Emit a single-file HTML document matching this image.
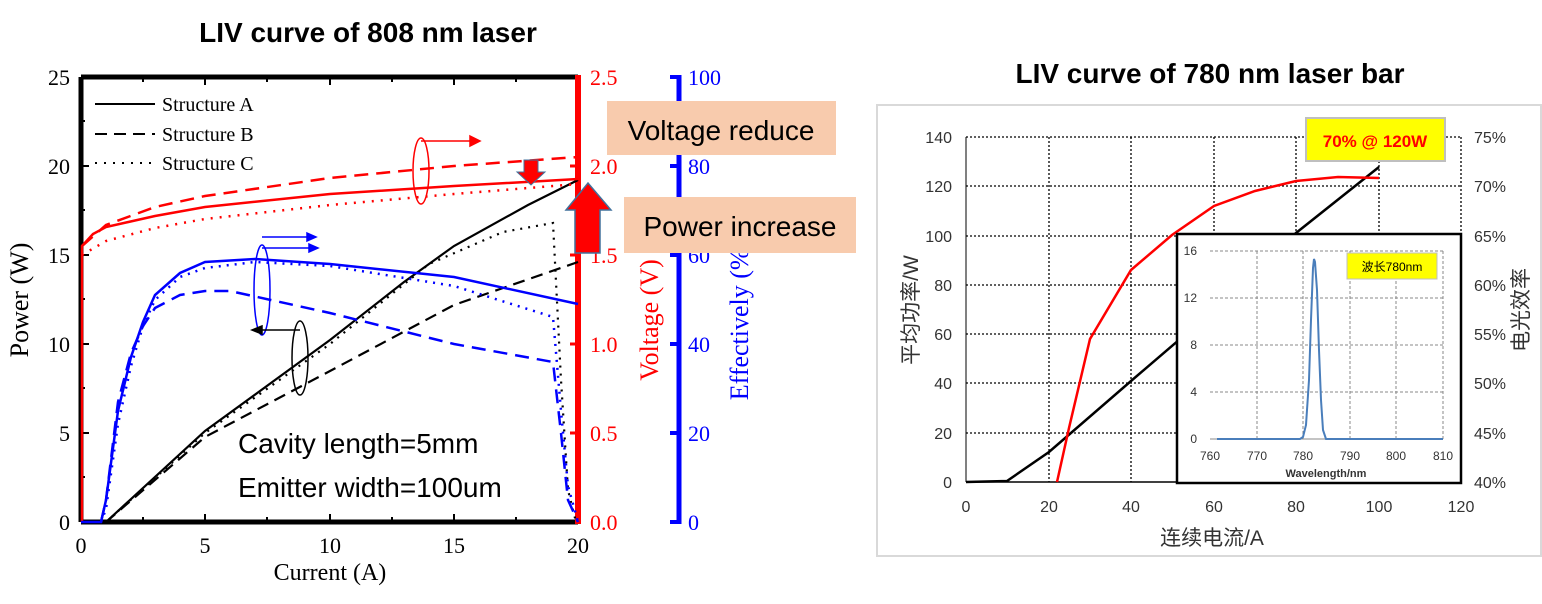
<!DOCTYPE html>
<html><head><meta charset="utf-8"><style>
body{margin:0;background:#fff;}
svg text{font-family:"Liberation Serif",serif;}
svg .s, svg .s text{font-family:"Liberation Sans","Noto Sans CJK SC",sans-serif;}
</style></head><body>
<svg width="1542" height="599" viewBox="0 0 1542 599" xmlns="http://www.w3.org/2000/svg">
<!-- LEFT CHART -->
<text x="368" y="42" text-anchor="middle" class="s" font-size="28" font-weight="bold">LIV curve of 808 nm laser</text>
<g stroke="#000" stroke-width="2">
<line x1="81" y1="77" x2="81" y2="522" stroke-width="5"/>
<line x1="81" y1="77" x2="578" y2="77" stroke-width="5"/>
<line x1="81" y1="522" x2="578" y2="522" stroke-width="5"/>
<line x1="81" y1="433" x2="89" y2="433"/><line x1="81" y1="344" x2="89" y2="344"/><line x1="81" y1="255" x2="89" y2="255"/><line x1="81" y1="166" x2="89" y2="166"/>
<line x1="81" y1="477" x2="85" y2="477"/><line x1="81" y1="388" x2="85" y2="388"/><line x1="81" y1="299" x2="85" y2="299"/><line x1="81" y1="210" x2="85" y2="210"/><line x1="81" y1="121" x2="85" y2="121"/>
<line x1="205" y1="522" x2="205" y2="514"/><line x1="330" y1="522" x2="330" y2="514"/><line x1="454" y1="522" x2="454" y2="514"/>
<line x1="205" y1="77" x2="205" y2="85"/><line x1="330" y1="77" x2="330" y2="85"/><line x1="454" y1="77" x2="454" y2="85"/>
<line x1="143" y1="522" x2="143" y2="517"/><line x1="267" y1="522" x2="267" y2="517"/><line x1="392" y1="522" x2="392" y2="517"/><line x1="516" y1="522" x2="516" y2="517"/>
<line x1="143" y1="77" x2="143" y2="82"/><line x1="267" y1="77" x2="267" y2="82"/><line x1="392" y1="77" x2="392" y2="82"/><line x1="516" y1="77" x2="516" y2="82"/>
</g>
<line x1="578" y1="75" x2="578" y2="524" stroke="#f00" stroke-width="6"/>
<g stroke="#f00" stroke-width="3"><line x1="578" y1="433" x2="570" y2="433"/><line x1="578" y1="344" x2="570" y2="344"/><line x1="578" y1="255" x2="570" y2="255"/><line x1="578" y1="166" x2="570" y2="166"/></g>
<line x1="679" y1="75" x2="679" y2="524" stroke="#00f" stroke-width="5"/>
<g stroke="#00f" stroke-width="4"><line x1="670" y1="77" x2="680" y2="77"/><line x1="670" y1="166" x2="680" y2="166"/><line x1="670" y1="255" x2="680" y2="255"/><line x1="670" y1="344" x2="680" y2="344"/><line x1="670" y1="433" x2="680" y2="433"/><line x1="670" y1="522" x2="680" y2="522"/></g>
<g font-size="22" text-anchor="end">
<text x="70" y="530">0</text><text x="70" y="441">5</text><text x="70" y="352">10</text><text x="70" y="263">15</text><text x="70" y="174">20</text><text x="70" y="85">25</text>
</g>
<g font-size="22" text-anchor="middle">
<text x="81" y="553">0</text><text x="205" y="553">5</text><text x="330" y="553">10</text><text x="454" y="553">15</text><text x="578" y="553">20</text>
</g>
<text x="330" y="580" font-size="24" text-anchor="middle">Current (A)</text>
<text transform="translate(28,300) rotate(-90)" font-size="26" text-anchor="middle">Power (W)</text>
<g font-size="22" fill="#f00"><text x="590" y="530">0.0</text><text x="590" y="441">0.5</text><text x="590" y="352">1.0</text><text x="590" y="263">1.5</text><text x="590" y="174">2.0</text><text x="590" y="85">2.5</text></g>
<g font-size="22" fill="#00f"><text x="688" y="530">0</text><text x="688" y="441">20</text><text x="688" y="352">40</text><text x="688" y="263">60</text><text x="688" y="174">80</text><text x="688" y="85">100</text></g>
<text transform="translate(658,320) rotate(-90)" font-size="26" fill="#f00" text-anchor="middle">Voltage (V)</text>
<text transform="translate(748,320) rotate(-90)" font-size="26" fill="#00f" text-anchor="middle">Effectively (%)</text>
<g stroke="#000" stroke-width="2"><line x1="95" y1="104" x2="155" y2="104"/><line x1="95" y1="134" x2="155" y2="134" stroke-dasharray="12,7"/><line x1="95" y1="163" x2="155" y2="163" stroke-dasharray="2,7"/></g>
<g font-size="20"><text x="162" y="111">Structure A</text><text x="162" y="141">Structure B</text><text x="162" y="170">Structure C</text></g>
<g fill="none" stroke="#000" stroke-width="2.2">
<polyline points="81,522 106,522 205,431 330,340 404,282 454,246 528,205 578,180"/>
<polyline stroke-dasharray="12,7" points="106,522 205,437 330,371 454,305 578,262"/>
<polyline stroke-dasharray="2,6" points="106,522 205,433 330,344 429,264 503,232 553,223 561,380 568,490 576,522"/>
</g>
<g fill="none" stroke="#f00" stroke-width="2.5">
<polyline points="82,522 82,246 93,234 106,227 155,216 205,207 330,194 454,186 578,179"/>
<polyline stroke-dasharray="14,8" points="82,246 106,225 155,207 205,196 330,178 454,166 578,157"/>
<polyline stroke-dasharray="2,7" points="82,255 106,241 155,228 205,219 330,205 454,194 578,184"/>
</g>
<g fill="none" stroke="#00f" stroke-width="2.5">
<polyline points="81,522 101,522 106,500 118,411 131,357 143,322 155,295 180,273 205,262 255,259 330,264 454,277 578,304"/>
<polyline stroke-dasharray="14,8" points="101,522 106,500 118,402 131,353 143,326 155,308 180,295 205,291 230,291 330,313 454,344 553,362 561,433 568,500 578,522"/>
<polyline stroke-dasharray="2,6" points="101,522 106,509 118,424 131,366 143,326 155,300 180,277 205,268 255,262 330,266 454,286 553,317 561,411 568,486 578,522"/>
</g>
<g fill="none" stroke-width="1.5">
<ellipse cx="421" cy="171" rx="8" ry="33" stroke="#f00"/><polyline points="421,141 470,141" stroke="#f00"/><polygon points="470,136 480,141 470,146" fill="#f00" stroke="#f00"/>
<ellipse cx="262" cy="290" rx="8" ry="45" stroke="#00f"/><polyline points="262,237 310,237" stroke="#00f"/><polyline points="262,248 312,248" stroke="#00f"/>
<polygon points="307,233 316,237 307,241" fill="#00f" stroke="#00f"/><polygon points="309,244 318,248 309,252" fill="#00f" stroke="#00f"/>
<ellipse cx="300" cy="358" rx="8" ry="37" stroke="#000"/><polyline points="300,330 260,330" stroke="#000"/><polygon points="262,326 252,330 262,334" fill="#000" stroke="#000"/>
</g>
<text x="238" y="453" class="s" font-size="28">Cavity length=5mm</text>
<text x="238" y="497" class="s" font-size="28">Emitter width=100um</text>
<rect x="607" y="101" width="229" height="54" fill="#f8cbad"/>
<text x="721" y="140" class="s" font-size="28" text-anchor="middle">Voltage reduce</text>
<rect x="624" y="197" width="232" height="56" fill="#f8cbad"/>
<text x="740" y="236" class="s" font-size="28" text-anchor="middle">Power increase</text>
<polygon points="524,160 538,160 538,172 545,172 531,185 517,172 524,172" fill="#f00" stroke="#41719c" stroke-width="1"/>
<polygon points="575,253 600,253 600,210 611,210 588,183 566,210 575,210" fill="#f00" stroke="#41719c" stroke-width="1.5"/>

<!-- RIGHT CHART -->
<text x="1210" y="83" text-anchor="middle" class="s" font-size="28" font-weight="bold">LIV curve of 780 nm laser bar</text>
<rect x="877" y="105" width="664" height="451" fill="#fff" stroke="#d9d9d9" stroke-width="2"/>
<g stroke="#000" stroke-width="1.3" stroke-dasharray="2,2">
<line x1="966" y1="137" x2="1461" y2="137"/><line x1="966" y1="186" x2="1461" y2="186"/><line x1="966" y1="236" x2="1461" y2="236"/><line x1="966" y1="285" x2="1461" y2="285"/><line x1="966" y1="334" x2="1461" y2="334"/><line x1="966" y1="383" x2="1461" y2="383"/><line x1="966" y1="433" x2="1461" y2="433"/>
<line x1="1049" y1="137" x2="1049" y2="482"/><line x1="1131" y1="137" x2="1131" y2="482"/><line x1="1214" y1="137" x2="1214" y2="482"/><line x1="1296" y1="137" x2="1296" y2="482"/><line x1="1379" y1="137" x2="1379" y2="482"/><line x1="1461" y1="137" x2="1461" y2="482"/>
</g>
<line x1="966" y1="137" x2="966" y2="482" stroke="#000" stroke-width="1"/>
<line x1="966" y1="482" x2="1461" y2="482" stroke="#000" stroke-width="1.5"/>
<g class="s" font-size="16" fill="#333" text-anchor="end">
<text x="952" y="488">0</text><text x="952" y="439">20</text><text x="952" y="389">40</text><text x="952" y="340">60</text><text x="952" y="291">80</text><text x="952" y="242">100</text><text x="952" y="192">120</text><text x="952" y="143">140</text>
</g>
<g class="s" font-size="16" fill="#333" text-anchor="middle">
<text x="966" y="512">0</text><text x="1049" y="512">20</text><text x="1131" y="512">40</text><text x="1214" y="512">60</text><text x="1296" y="512">80</text><text x="1379" y="512">100</text><text x="1461" y="512">120</text>
</g>
<g class="s" font-size="16" fill="#333">
<text x="1474" y="488">40%</text><text x="1474" y="439">45%</text><text x="1474" y="389">50%</text><text x="1474" y="340">55%</text><text x="1474" y="291">60%</text><text x="1474" y="242">65%</text><text x="1474" y="192">70%</text><text x="1474" y="143">75%</text>
</g>
<text x="1212" y="545" class="s" font-size="21" fill="#333" text-anchor="middle">连续电流/A</text>
<text transform="translate(918,310) rotate(-90)" class="s" font-size="21" fill="#333" text-anchor="middle">平均功率/W</text>
<text transform="translate(1528,310) rotate(-90)" class="s" font-size="21" fill="#333" text-anchor="middle">电光效率</text>
<polyline fill="none" stroke="#000" stroke-width="2.5" points="966,482 1007,481 1049,452 1131,381 1214,310 1296,233 1379,167"/>
<polyline fill="none" stroke="#f00" stroke-width="2.5" points="1057,482 1069,428 1090,339 1131,270 1172,235 1214,206 1255,191 1296,181 1338,177 1379,178"/>
<rect x="1306" y="118" width="139" height="43" fill="#ff0" stroke="#bfbfbf" stroke-width="2"/>
<text x="1375" y="147" class="s" font-size="17" font-weight="bold" fill="#f00" text-anchor="middle">70% @ 120W</text>
<rect x="1177" y="234" width="284" height="249" fill="#fff" stroke="#000" stroke-width="2.5"/>
<g stroke="#888" stroke-width="1" stroke-dasharray="3,2">
<line x1="1210" y1="251" x2="1443" y2="251"/><line x1="1210" y1="298" x2="1443" y2="298"/><line x1="1210" y1="345" x2="1443" y2="345"/><line x1="1210" y1="392" x2="1443" y2="392"/>
<line x1="1257" y1="251" x2="1257" y2="439"/><line x1="1303" y1="251" x2="1303" y2="439"/><line x1="1350" y1="251" x2="1350" y2="439"/><line x1="1396" y1="251" x2="1396" y2="439"/><line x1="1443" y1="251" x2="1443" y2="439"/>
</g>
<line x1="1210" y1="439" x2="1443" y2="439" stroke="#888"/>
<g class="s" font-size="12" fill="#333" text-anchor="end">
<text x="1197" y="443">0</text><text x="1197" y="396">4</text><text x="1197" y="349">8</text><text x="1197" y="302">12</text><text x="1197" y="255">16</text>
</g>
<g class="s" font-size="12" fill="#333" text-anchor="middle">
<text x="1210" y="460">760</text><text x="1257" y="460">770</text><text x="1303" y="460">780</text><text x="1350" y="460">790</text><text x="1396" y="460">800</text><text x="1443" y="460">810</text>
</g>
<text x="1326" y="477" class="s" font-size="11" font-weight="bold" fill="#333" text-anchor="middle">Wavelength/nm</text>
<polyline fill="none" stroke="#4a7ebb" stroke-width="2" points="1217,439 1300,439 1303,437 1306,425 1309,380 1311,320 1313,268 1314,259 1315,262 1317,290 1319,350 1321,400 1323,430 1326,439 1443,439"/>
<rect x="1347" y="253" width="90" height="26" fill="#ff0" stroke="#bfbfbf"/>
<text x="1392" y="271" class="s" font-size="12" text-anchor="middle">波长780nm</text>
</svg>
</body></html>
